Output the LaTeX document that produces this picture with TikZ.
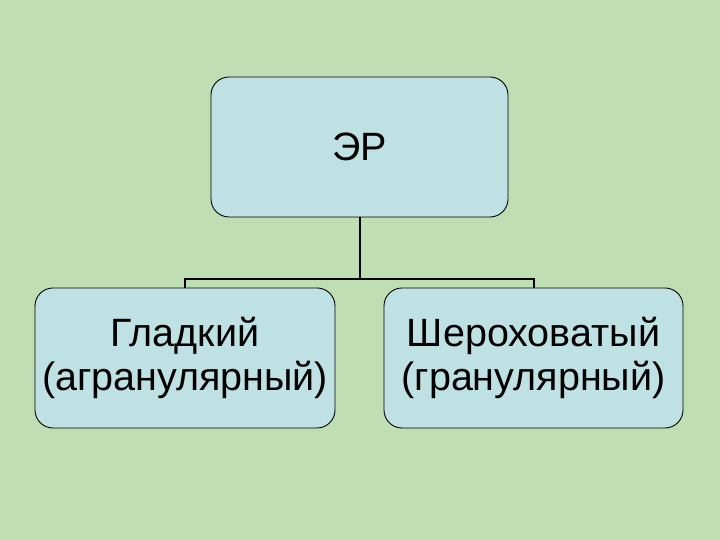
\documentclass[tikz,border=0pt]{standalone}
\usepackage{fontspec}
\setmainfont{Liberation Sans}
\usepackage{xcolor}
\usetikzlibrary{positioning}
\definecolor{ink}{HTML}{000000}
\definecolor{bgGreen}{HTML}{C0DEB4}
\definecolor{boxBlue}{HTML}{C0E1E3}
\tikzset{
  label/.style={font=\fontsize{39.5}{44}\selectfont, text=ink},
  box/.style={rounded corners=18pt, draw=ink, line width=0.9pt, fill=boxBlue, align=center, label},
  topbox/.style={box, minimum width=297pt, minimum height=140pt},
  leafbox/.style={box, minimum width=300pt, minimum height=140pt},
  link/.style={draw=ink, line width=2pt}
}

\begin{document}
\begin{tikzpicture}[x=1pt,y=1pt]
\useasboundingbox (0,0) rectangle (720,540);
\fill[bgGreen] (0,0) rectangle (720,540);

\node[topbox] (er) at (359.5,393) {ЭР};

\node[leafbox] (smooth) at (185,182) {Гладкий\\(агранулярный)};
\node[leafbox, minimum width=299pt] (rough) at (533.5,182) {Шероховатый\\(гранулярный)};

\draw[link] (er.south) -- ++(0,-62) coordinate (split);
\draw[link] (smooth.north) |- (split) -| (rough.north);

\end{tikzpicture}
\end{document}
